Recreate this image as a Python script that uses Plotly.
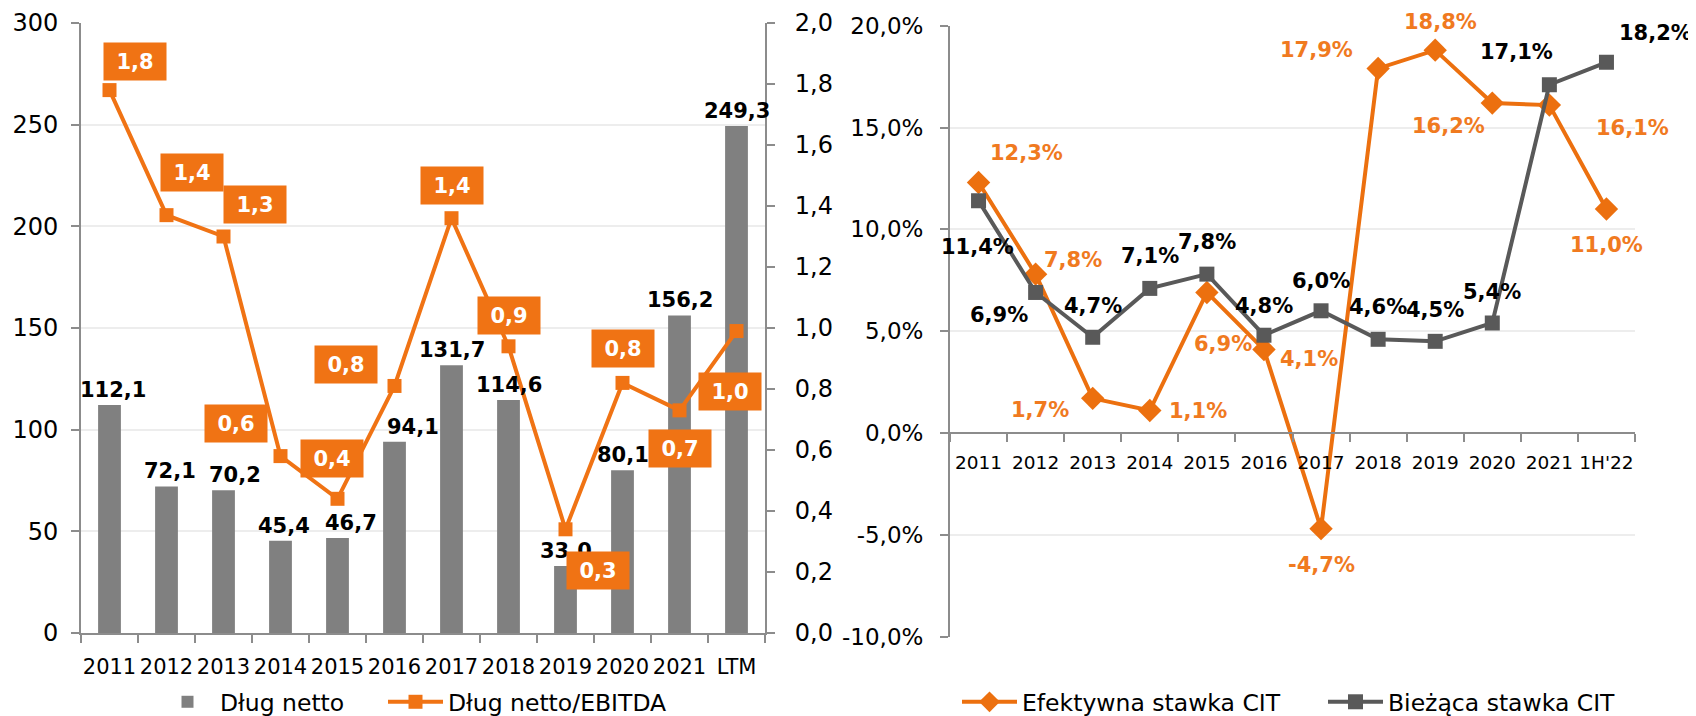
import plotly.graph_objects as go

# ---------------- data ----------------
years_left = ["2011", "2012", "2013", "2014", "2015", "2016", "2017", "2018", "2019", "2020", "2021", "LTM"]
dlug_netto = [112.1, 72.1, 70.2, 45.4, 46.7, 94.1, 131.7, 114.6, 33.0, 80.1, 156.2, 249.3]
dlug_ebitda = [1.78, 1.37, 1.30, 0.58, 0.44, 0.81, 1.36, 0.94, 0.34, 0.82, 0.73, 0.99]

years_right = ["2011", "2012", "2013", "2014", "2015", "2016", "2017", "2018", "2019", "2020", "2021", "1H'22"]
efektywna_cit = [12.3, 7.8, 1.7, 1.1, 6.9, 4.1, -4.7, 17.9, 18.8, 16.2, 16.1, 11.0]
biezaca_cit = [11.4, 6.9, 4.7, 7.1, 7.8, 4.8, 6.0, 4.6, 4.5, 5.4, 17.1, 18.2]

cit_ticks = [-10, -5, 0, 5, 10, 15, 20]

# ---------------- label offsets (pixels, dx right / dy down) ----------------
bar_lbl_dx = [3, 3, 11, 3, 13, 18, 0, 0, 0, 0, 0, 0]
ratio_lbl_off = [(25, -29), (25, -43), (31, -32), (-45, -33), (-6, -40), (-49, -21),
                 (0, -33), (0, -31), (32, 41), (0, -34), (0, 38), (-7, 60)]
eff_lbl_off = [(48, -30), (37, -14), (-53, 12), (48, 0), (16, 52), (45, 10),
               (0, 36), (-62, -18), (5, -28), (-44, 23), (83, 23), (0, 36)]
cur_lbl_off = [(-1, 46), (-37, 23), (0, -31), (0, -32), (0, -32), (0, -29),
               (0, -30), (0, -32), (0, -31), (0, -31), (-33, -33), (49, -29)]

# ---------------- styles ----------------
FONT = "DejaVu Sans"
ORANGE = "#F07314"
ORANGE_LINE = "#EC700F"
ORANGE_TXT = "#F07A1F"
BAR_GRAY = "#808080"
DARK_GRAY = "#595959"
AXIS_GRAY = "#8C8C8C"
GRID = "#EDEDED"
OFF = 8            # page body margin
W, H = 1688, 730   # figure size inside the page


def fx(px):
    return (px - OFF) / W


def fy(py):
    return 1 - (py - OFF) / H


def fmt(v, suffix=""):
    return f"{v:.1f}".replace(".", ",") + suffix


xl = list(range(len(years_left)))
xr = list(range(len(years_right)))

fig = go.Figure()

# ---- left chart ----
fig.add_trace(go.Bar(
    x=xl, y=dlug_netto, name="Dług netto",
    marker=dict(color=BAR_GRAY, line=dict(width=0)), width=0.4,
    xaxis="x", yaxis="y", legend="legend",
))
fig.add_trace(go.Scatter(
    x=xl, y=dlug_ebitda, name="Dług netto/EBITDA", mode="lines+markers",
    line=dict(color=ORANGE, width=4), marker=dict(symbol="square", size=14, color=ORANGE),
    xaxis="x", yaxis="y2", legend="legend2",
))

# ---- right chart ----
fig.add_trace(go.Scatter(
    x=xr, y=efektywna_cit, name="Efektywna stawka CIT", mode="lines+markers",
    line=dict(color=ORANGE_LINE, width=4), marker=dict(symbol="diamond", size=18, color=ORANGE_LINE),
    xaxis="x3", yaxis="y3", legend="legend3",
))
fig.add_trace(go.Scatter(
    x=xr, y=biezaca_cit, name="Bieżąca stawka CIT", mode="lines+markers",
    line=dict(color=DARK_GRAY, width=4), marker=dict(symbol="square", size=15, color=DARK_GRAY),
    xaxis="x3", yaxis="y3", legend="legend4",
))

annotations = []
for i, v, dx in zip(xl, dlug_netto, bar_lbl_dx):
    annotations.append(dict(
        x=i, y=v, xref="x", yref="y", text=fmt(v), showarrow=False,
        yanchor="bottom", xshift=dx, yshift=1,
        font=dict(family=FONT, size=21, color="black", weight="bold"),
    ))
for i, v, (dx, dy) in zip(xl, dlug_ebitda, ratio_lbl_off):
    annotations.append(dict(
        x=i, y=v, xref="x", yref="y2", text=fmt(v), showarrow=False,
        xshift=dx, yshift=-dy, bgcolor=ORANGE, width=58, height=33, borderpad=2,
        font=dict(family=FONT, size=21, color="white", weight="bold"),
    ))
for i, v, (dx, dy) in zip(xr, efektywna_cit, eff_lbl_off):
    annotations.append(dict(
        x=i, y=v, xref="x3", yref="y3", text=fmt(v, "%"), showarrow=False,
        xshift=dx, yshift=-dy,
        font=dict(family=FONT, size=21, color=ORANGE_TXT, weight="bold"),
    ))
for i, v, (dx, dy) in zip(xr, biezaca_cit, cur_lbl_off):
    annotations.append(dict(
        x=i, y=v, xref="x3", yref="y3", text=fmt(v, "%"), showarrow=False,
        xshift=dx, yshift=-dy,
        font=dict(family=FONT, size=21, color="black", weight="bold"),
    ))

line_common = dict(showline=True, linecolor=AXIS_GRAY, linewidth=2, automargin=False)
y_common = dict(ticks="outside", tickcolor=AXIS_GRAY, ticklen=8, tickwidth=2, **line_common)


def x_axis(cats, positions, font_size, label_gap):
    return dict(
        range=[-0.5, len(cats) - 0.5], tickmode="array", tickvals=positions, ticktext=cats,
        ticks="outside", ticklen=label_gap, tickcolor="rgba(0,0,0,0)", tickangle=0,
        tickfont=dict(size=font_size), showgrid=False, zeroline=False,
        minor=dict(tickmode="array", tickvals=[p - 0.5 for p in positions] + [len(cats) - 0.5],
                   ticks="outside", ticklen=8, tickcolor=AXIS_GRAY, tickwidth=2, showgrid=False),
        **line_common,
    )


def legend_at(px):
    return dict(orientation="h", x=fx(px), y=fy(702), xanchor="left", yanchor="middle",
                font=dict(size=23.5), bgcolor="rgba(0,0,0,0)", itemwidth=55)


fig.update_layout(
    width=W, height=H, margin=dict(l=0, r=0, t=0, b=0),
    paper_bgcolor="white", plot_bgcolor="white",
    separators=", ", font=dict(family=FONT, color="black"),
    showlegend=True,
    xaxis=dict(domain=[fx(81), fx(765)], anchor="y", **x_axis(years_left, xl, 21, 14)),
    yaxis=dict(domain=[fy(633), fy(23)], anchor="x", range=[0, 300], dtick=50,
               tickfont=dict(size=24), ticklabelstandoff=8, showgrid=True, gridcolor=GRID,
               gridwidth=2, zeroline=False, **y_common),
    yaxis2=dict(overlaying="y", anchor="x", side="right", range=[0, 2], dtick=0.2,
                tickformat=".1f", tickfont=dict(size=24), ticklabelstandoff=15,
                showgrid=False, zeroline=False, **y_common),
    xaxis3=dict(domain=[fx(950), fx(1635)], anchor="free", position=fy(433),
                **x_axis(years_right, xr, 18.5, 13)),
    yaxis3=dict(domain=[fy(636.6), fy(25.7)], anchor="x3", range=[-10, 20],
                tickmode="array", tickvals=cit_ticks, ticktext=[fmt(t, "%") for t in cit_ticks],
                tickfont=dict(size=23), ticklabelstandoff=12,
                showgrid=True, gridcolor=GRID, gridwidth=2, zeroline=False, **y_common),
    legend=legend_at(155),
    legend2=legend_at(383),
    legend3=legend_at(957),
    legend4=legend_at(1323),
    annotations=annotations,
)

fig.write_html("out.html")
